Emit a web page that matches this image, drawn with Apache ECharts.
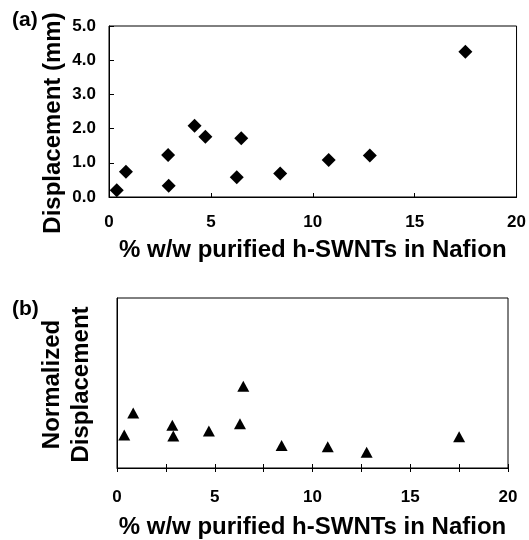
<!DOCTYPE html>
<html>
<head>
<meta charset="utf-8">
<script src="https://cdn.jsdelivr.net/npm/echarts@6/dist/echarts.min.js"></script>
<style>
html,body{margin:0;padding:0;background:#fff;}
#c{width:529px;height:540px;}
</style>
</head>
<body>
<div id="c"></div>
<script>
// Panel (a): displacement vs loading
const loadingA = [0.38, 0.83, 2.9, 2.93, 4.2, 4.73, 6.27, 6.49, 8.4, 10.78, 12.8, 17.49];
const displacementA = [0.20, 0.74, 1.23, 0.33, 2.08, 1.76, 0.58, 1.72, 0.69, 1.08, 1.21, 4.25];
// Panel (b): normalized displacement (relative units)
const loadingB = [0.37, 0.83, 2.83, 2.88, 4.7, 6.29, 6.46, 8.42, 10.78, 12.77, 17.5];
const normalizedB = [0.194, 0.324, 0.251, 0.188, 0.217, 0.26, 0.481, 0.132, 0.125, 0.092, 0.184];
const xTicks = [0, 5, 10, 15, 20];
const yTicksA = [0.0, 1.0, 2.0, 3.0, 4.0, 5.0];
const xTitle = '% w/w purified h-SWNTs in Nafion';
const yTitleA = 'Displacement (mm)';
const yTitleB = 'Normalized\nDisplacement';

const FONT = '"Liberation Sans", Arial, sans-serif';
const chart = echarts.init(document.getElementById('c'));
const lbl = {color:'#000', fontFamily:FONT, fontWeight:'bold', fontSize:17};
const nameStyle = {color:'#000', fontFamily:FONT, fontWeight:'bold', fontSize:24};

chart.setOption({
  animation:false,
  backgroundColor:'#fff',
  grid:[
    {left:109, top:26, width:409, height:171, show:true, borderColor:'#000', borderWidth:1},
    {left:117, top:298, width:391, height:174, show:true, borderColor:'#000', borderWidth:1}
  ],
  xAxis:[
    {gridIndex:0, type:'value', min:xTicks[0], max:xTicks[xTicks.length-1], interval:5,
     name:xTitle, nameLocation:'middle', nameGap:41, nameMoveOverlap:false, nameTextStyle:nameStyle,
     axisLine:{lineStyle:{color:'#000', width:1}},
     axisTick:{inside:true, length:4, lineStyle:{color:'#000'}},
     axisLabel:Object.assign({margin:17}, lbl), splitLine:{show:false}},
    {gridIndex:1, type:'value', min:xTicks[0], max:xTicks[xTicks.length-1], interval:2.5,
     name:xTitle, nameLocation:'middle', nameGap:47, nameMoveOverlap:false, nameTextStyle:nameStyle,
     axisLine:{lineStyle:{color:'#000', width:1}},
     axisTick:{inside:false, length:4, lineStyle:{color:'#000'}},
     axisLabel:Object.assign({margin:21, formatter:function(v){return xTicks.indexOf(v)>=0 ? String(v) : '';}}, lbl),
     splitLine:{show:false}},
    {gridIndex:1, type:'value', min:0, max:20, interval:2.5, position:'bottom',
     axisLine:{show:false}, axisTick:{inside:true, length:4, lineStyle:{color:'#000'}},
     axisLabel:{show:false}, splitLine:{show:false}}
  ],
  yAxis:[
    {gridIndex:0, type:'value', min:yTicksA[0], max:yTicksA[yTicksA.length-1], interval:1,
     name:yTitleA, nameLocation:'middle', nameGap:44, nameMoveOverlap:false,
     nameTextStyle:Object.assign({padding:[0,23,0,0]}, nameStyle),
     axisLine:{show:true, lineStyle:{color:'#000', width:1}},
     axisTick:{show:true, inside:true, length:5, lineStyle:{color:'#000'}},
     axisLabel:Object.assign({margin:13, formatter:function(v){return v.toFixed(1);}}, lbl),
     splitLine:{show:false}},
    {gridIndex:1, type:'value', min:0, max:1,
     name:yTitleB, nameLocation:'middle', nameGap:21, nameMoveOverlap:false,
     nameTextStyle:Object.assign({lineHeight:29, padding:[0,3,0,0]}, nameStyle),
     axisLine:{show:true, lineStyle:{color:'#000', width:1}},
     axisTick:{show:false}, axisLabel:{show:false}, splitLine:{show:false}}
  ],
  graphic:[
    {type:'text', left:12, top:10, style:{text:'(a)', fill:'#000', font:'bold 21px ' + FONT}},
    {type:'text', left:12, top:299, style:{text:'(b)', fill:'#000', font:'bold 21px ' + FONT}}
  ],
  series:[
    {type:'scatter', xAxisIndex:0, yAxisIndex:0, symbol:'diamond', symbolSize:14,
     itemStyle:{color:'#000', opacity:1}, data:loadingA.map((x,i)=>[x, displacementA[i]])},
    {type:'scatter', xAxisIndex:1, yAxisIndex:1, symbol:'triangle', symbolSize:[12,11],
     itemStyle:{color:'#000', opacity:1}, data:loadingB.map((x,i)=>[x, normalizedB[i]])}
  ]
});
</script>
</body>
</html>
